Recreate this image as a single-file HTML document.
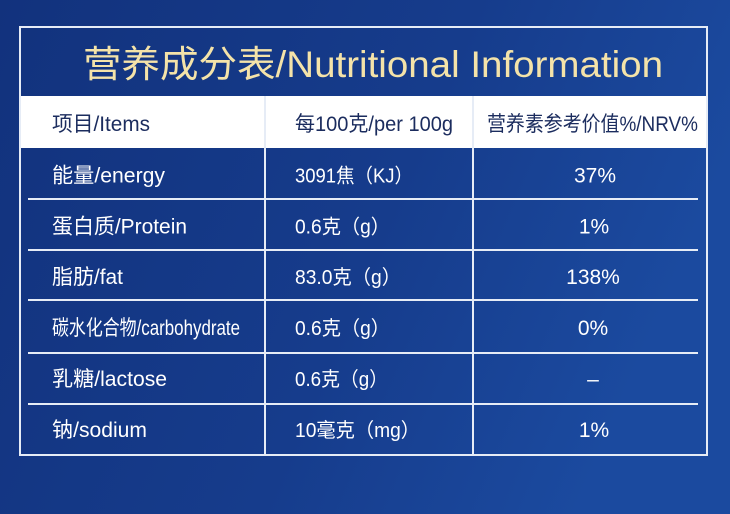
<!DOCTYPE html>
<html>
<head>
<meta charset="utf-8">
<style>
  html,body{margin:0;padding:0;background:#143584;}
  svg{display:block;}
  text{font-family:"Liberation Sans","Noto Sans CJK SC",sans-serif;}
</style>
</head>
<body>
<svg width="730" height="514" viewBox="0 0 730 514" xmlns="http://www.w3.org/2000/svg">
  <defs>
    <linearGradient id="bg" x1="0" y1="0" x2="1" y2="0.3">
      <stop offset="0" stop-color="#12327d"/>
      <stop offset="0.6" stop-color="#163c8c"/>
      <stop offset="1" stop-color="#1b4a9f"/>
    </linearGradient>
  </defs>
  <rect x="0" y="0" width="730" height="514" fill="url(#bg)"/>

  <!-- header white row -->
  <rect x="20" y="96" width="687" height="52" fill="#ffffff"/>

  <!-- outer border -->
  <rect x="20" y="27" width="687" height="428" fill="none" stroke="#e6ecf6" stroke-width="2"/>

  <!-- vertical dividers -->
  <line x1="265" y1="96" x2="265" y2="455" stroke="#e6ecf6" stroke-width="2"/>
  <line x1="473" y1="96" x2="473" y2="455" stroke="#e6ecf6" stroke-width="2"/>

  <!-- horizontal row lines (inset) -->
  <g stroke="#e6ecf6" stroke-width="2">
    <line x1="28" y1="199" x2="698" y2="199"/>
    <line x1="28" y1="250" x2="698" y2="250"/>
    <line x1="28" y1="300" x2="698" y2="300"/>
    <line x1="28" y1="353" x2="698" y2="353"/>
    <line x1="28" y1="404" x2="698" y2="404"/>
  </g>

  <!-- title -->
  <text x="83" y="77" font-size="37" fill="#f4e3a9" textLength="580" lengthAdjust="spacingAndGlyphs">营养成分表/Nutritional Information</text>

  <!-- header -->
  <g font-size="21" fill="#1b2c5e">
    <text x="52" y="131" textLength="98" lengthAdjust="spacingAndGlyphs">项目/Items</text>
    <text x="295" y="131" textLength="158" lengthAdjust="spacingAndGlyphs">每100克/per 100g</text>
    <text x="487" y="131" textLength="211" lengthAdjust="spacingAndGlyphs">营养素参考价值%/NRV%</text>
  </g>

  <!-- body col 1 and 3 -->
  <g font-size="21" fill="#ffffff">
    <text x="52" y="182.5" textLength="113" lengthAdjust="spacingAndGlyphs">能量/energy</text>
    <text x="595" y="182.5" text-anchor="middle">37%</text>

    <text x="52" y="233.5" textLength="135" lengthAdjust="spacingAndGlyphs">蛋白质/Protein</text>
    <text x="594" y="233.5" text-anchor="middle">1%</text>

    <text x="52" y="284" textLength="71" lengthAdjust="spacingAndGlyphs">脂肪/fat</text>
    <text x="593" y="284" text-anchor="middle">138%</text>

    <text x="52" y="335" textLength="188" lengthAdjust="spacingAndGlyphs">碳水化合物/carbohydrate</text>
    <text x="593" y="335" text-anchor="middle">0%</text>

    <text x="52" y="386" textLength="115" lengthAdjust="spacingAndGlyphs">乳糖/lactose</text>
    <text x="593" y="386" text-anchor="middle">–</text>

    <text x="52" y="437" textLength="95" lengthAdjust="spacingAndGlyphs">钠/sodium</text>
    <text x="594" y="437" text-anchor="middle">1%</text>
  </g>

  <!-- body col 2 -->
  <g font-size="20" fill="#ffffff">
    <text x="295" y="182.5" textLength="118" lengthAdjust="spacingAndGlyphs">3091焦（KJ）</text>
    <text x="295" y="233.5" textLength="95" lengthAdjust="spacingAndGlyphs">0.6克（g）</text>
    <text x="295" y="284" textLength="106" lengthAdjust="spacingAndGlyphs">83.0克（g）</text>
    <text x="295" y="335" textLength="95" lengthAdjust="spacingAndGlyphs">0.6克（g）</text>
    <text x="295" y="386" textLength="93" lengthAdjust="spacingAndGlyphs">0.6克（g）</text>
    <text x="295" y="437" textLength="125" lengthAdjust="spacingAndGlyphs">10毫克（mg）</text>
  </g>
</svg>
</body>
</html>
